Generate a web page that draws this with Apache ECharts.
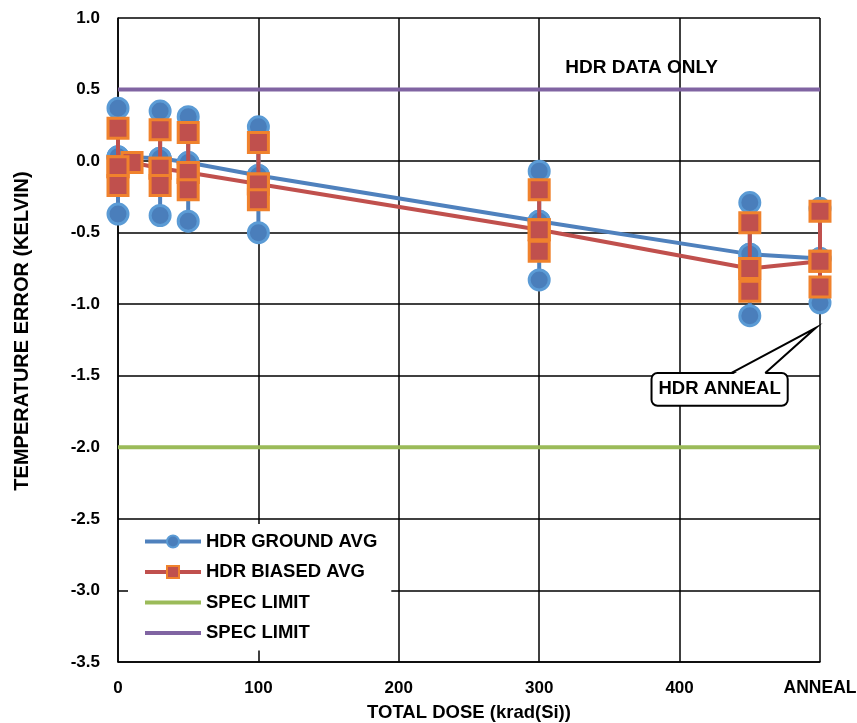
<!DOCTYPE html>
<html>
<head>
<meta charset="utf-8">
<script src="https://cdn.jsdelivr.net/npm/echarts@6/dist/echarts.min.js"></script>
<style>
html,body{margin:0;padding:0;background:#fff;}
#chart{width:857px;height:723px;}
</style>
</head>
<body>
<div id="chart"></div>
<script>
// ---- data ----
const doses = [0, 30, 50, 100, 300, 450, 500];
const groundMax = [0.37, 0.35, 0.31, 0.24, -0.07, -0.29, -0.33];
const groundAvg = [0.03, 0.02, -0.01, -0.10, -0.42, -0.65, -0.68];
const groundMin = [-0.37, -0.38, -0.42, -0.50, -0.83, -1.08, -0.99];

const biasedDoses = [0, 10, 30, 50, 100, 300, 450, 500];
const biasedMax = [0.23, null, 0.22, 0.20, 0.13, -0.20, -0.43, -0.35];
const biasedAvg = [-0.04, -0.01, -0.05, -0.08, -0.16, -0.48, -0.75, -0.70];
const biasedMin = [-0.17, null, -0.17, -0.20, -0.27, -0.63, -0.91, -0.88];

const specLow = -2.0;
const specHigh = 0.5;
const xTickLabels = ['0', '100', '200', '300', '400', 'ANNEAL'];

// ---- styles ----
const FONT = 'Liberation Sans, Arial, sans-serif';
const BLUE_LINE = '#4f81bd';
const BLUE_FILL = '#4a7ebb';
const BLUE_RING = '#5b9bd5';
const RED_LINE = '#c0504d';
const RED_FILL = '#c0504d';
const ORANGE = '#f0822d';
const TXT = 18.5;
const NUM = 17;

function rangeData(xs, maxs, avgs, mins) {
  const out = [];
  xs.forEach((x, i) => {
    if (maxs[i] == null) return;
    out.push([x, maxs[i]], [x, avgs[i]], [x, mins[i]], [x, '-']);
  });
  return out;
}
const pairs = (xs, ys) => xs.map((x, i) => [x, ys[i]]);

const circleStyle = {color: BLUE_FILL, borderColor: BLUE_RING, borderWidth: 3};
const squareStyle = {color: RED_FILL, borderColor: ORANGE, borderWidth: 3};

const chart = echarts.init(document.getElementById('chart'), null, {renderer: 'canvas'});
const option = {
  animation: false,
  backgroundColor: '#fff',
  grid: {left: 118, right: 37, top: 18, bottom: 61, containLabel: false, outerBoundsMode: 'none'},
  xAxis: {
    type: 'value', min: 0, max: 500, interval: 100,
    name: 'TOTAL DOSE (krad(Si))', nameLocation: 'middle', nameGap: 41,
    nameTextStyle: {fontFamily: FONT, fontWeight: 'bold', fontSize: TXT, color: '#000'},
    axisLine: {show: true, onZero: false, lineStyle: {color: '#000', width: 1.5}},
    axisTick: {show: false},
    axisLabel: {margin: 16, fontFamily: FONT, fontWeight: 'bold', fontSize: NUM, color: '#000',
      lineHeight: 20, hideOverlap: false,
      formatter: v => v === 500 ? '{w|' + xTickLabels[5] + '}' : '{n|' + xTickLabels[Math.round(v / 100)] + '}',
      rich: {
        w: {fontFamily: FONT, fontWeight: 'bold', fontSize: 17.5, lineHeight: 20, color: '#000'},
        n: {fontFamily: FONT, fontWeight: 'bold', fontSize: NUM, lineHeight: 20, color: '#000'}
      }},
    splitLine: {show: true, lineStyle: {color: '#000', width: 1.5}}
  },
  yAxis: {
    type: 'value', min: -3.5, max: 1.0, interval: 0.5,
    name: 'TEMPERATURE ERROR (KELVIN)', nameLocation: 'middle', nameGap: 86,
    nameTextStyle: {fontFamily: FONT, fontWeight: 'bold', fontSize: 20, color: '#000', padding: [0, 0, 0, 18]},
    axisLine: {show: true, lineStyle: {color: '#000', width: 1.5}},
    axisTick: {show: false},
    axisLabel: {margin: 18, fontFamily: FONT, fontWeight: 'bold', fontSize: NUM, color: '#000',
      formatter: v => v.toFixed(1)},
    splitLine: {show: true, lineStyle: {color: '#000', width: 1.5}}
  },
  legend: {
    orient: 'vertical', left: 128, top: 524,
    backgroundColor: '#fff', padding: [8, 14, 8, 15],
    itemWidth: 56, itemHeight: 15, itemGap: 11.5,
    lineStyle: {width: 4},
    textStyle: {fontFamily: FONT, fontWeight: 'bold', fontSize: TXT, color: '#000'},
    data: [
      {name: 'HDR GROUND AVG'},
      {name: 'HDR BIASED AVG'},
      {name: 'SPEC LIMIT', itemStyle: {opacity: 0}},
      {name: 'SPEC LIMIT ', itemStyle: {opacity: 0}}
    ],
    formatter: n => n.trim()
  },
  series: [
    {
      name: 'SPEC LIMIT', type: 'line', symbol: 'none', z: 1,
      data: [[0, specLow], [500, specLow]],
      lineStyle: {color: '#9bbb59', width: 4}, itemStyle: {color: '#9bbb59'}
    },
    {
      name: 'SPEC LIMIT ', type: 'line', symbol: 'none', z: 1,
      data: [[0, specHigh], [500, specHigh]],
      lineStyle: {color: '#8064a2', width: 4}, itemStyle: {color: '#8064a2'}
    },
    {
      name: 'HDR GROUND AVG', type: 'line', clip: false, z: 3,
      data: pairs(doses, groundAvg),
      symbol: 'circle', symbolSize: 20,
      lineStyle: {color: BLUE_LINE, width: 4}, itemStyle: circleStyle
    },
    {
      name: 'ground range', type: 'line', clip: false, z: 3, connectNulls: false,
      data: rangeData(doses, groundMax, groundAvg, groundMin),
      symbol: 'circle', symbolSize: 20,
      lineStyle: {color: BLUE_LINE, width: 4}, itemStyle: circleStyle
    },
    {
      name: 'HDR BIASED AVG', type: 'line', clip: false, z: 4,
      data: pairs(biasedDoses, biasedAvg),
      symbol: 'rect', symbolSize: 20,
      lineStyle: {color: RED_LINE, width: 4}, itemStyle: squareStyle
    },
    {
      name: 'biased range', type: 'line', clip: false, z: 4, connectNulls: false,
      data: rangeData(biasedDoses, biasedMax, biasedAvg, biasedMin),
      symbol: 'rect', symbolSize: 20,
      lineStyle: {color: RED_LINE, width: 4}, itemStyle: squareStyle
    }
  ]
};
chart.setOption(option);

// ---- annotations (data-space anchors) ----
const noteOnly = {x: 373, y: 0.65, text: 'HDR DATA ONLY'};
const callout = {x0: 380, x1: 477, yTop: -1.48, yBot: -1.71, tailA: 437, tailB: 461, tipX: 497, tipY: -1.165, text: 'HDR ANNEAL'};

function px(x, y) { return chart.convertToPixel({gridIndex: 0}, [x, y]); }
const a = px(callout.x0, callout.yTop), b = px(callout.x1, callout.yBot);
const ta = px(callout.tailA, callout.yTop), tb = px(callout.tailB, callout.yTop), tip = px(callout.tipX, callout.tipY);
const nt = px(noteOnly.x, noteOnly.y);

chart.setOption({
  graphic: [
    {type: 'text', z: 50, position: [nt[0], nt[1]],
      style: {text: noteOnly.text, x: 0, y: 0, fill: '#000', font: 'bold 19px ' + FONT, textAlign: 'center', textVerticalAlign: 'middle'}},
    {type: 'rect', z: 50, shape: {x: a[0], y: a[1], width: b[0] - a[0], height: b[1] - a[1], r: 6},
      style: {fill: '#fff', stroke: '#000', lineWidth: 2}},
    {type: 'polygon', z: 51, shape: {points: [[ta[0] + 1, ta[1] + 1.5], tip, [tb[0] - 1, tb[1] + 1.5]]},
      style: {fill: '#fff', stroke: null}},
    {type: 'polyline', z: 52, shape: {points: [ta, tip, tb]},
      style: {fill: null, stroke: '#000', lineWidth: 2}},
    {type: 'text', z: 53, position: [(a[0] + b[0]) / 2, (a[1] + b[1]) / 2],
      style: {text: callout.text, x: 0, y: 0, fill: '#000', font: 'bold 18.5px ' + FONT, textAlign: 'center', textVerticalAlign: 'middle'}}
  ]
});
</script>
</body>
</html>
